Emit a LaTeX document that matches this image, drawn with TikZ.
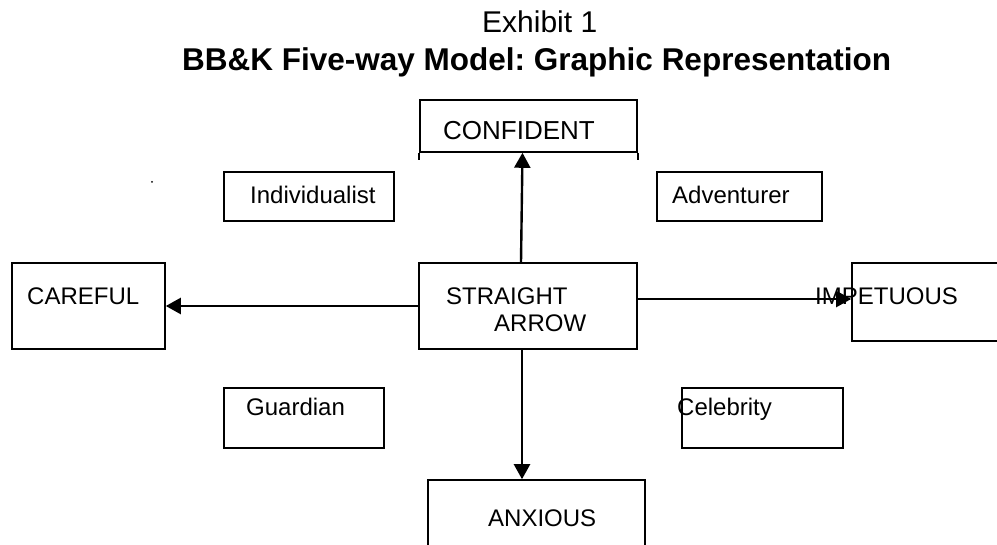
\documentclass[tikz,border=0pt]{standalone}
\usepackage{fontspec}
\setmainfont{Liberation Sans}
\frenchspacing
\usetikzlibrary{arrows.meta, positioning, calc}
\tikzset{
  typebox/.style={
    draw, line width=1.6pt, inner sep=0pt
  },
  typelabel/.style={
    anchor=base west, inner sep=0pt, font=\fontsize{24}{28}\selectfont
  },
  typearrow/.style={
    -{Triangle[length=15pt, width=16pt]}, line width=2.4pt
  },
}

\begin{document}
\begin{tikzpicture}[x=1pt, y=-1pt]
  \useasboundingbox (0,0) rectangle (997,545);
  \clip (0,0) rectangle (997,545);

  % ── Title ──────────────────────────────────────────────────────
  \node[anchor=base west, inner sep=0pt, font=\fontsize{30}{36}\selectfont]
    (exhibit) at (482,33) {Exhibit 1};
  \node[anchor=base west, inner sep=0pt,
        font=\fontsize{31.5}{38}\selectfont\bfseries]
    (title) at (182,71) {BB\&K Five-way Model: Graphic Representation};

  % ── Boxes ──────────────────────────────────────────────────────
  \node[typebox, minimum width=217pt, minimum height=52pt]
    (confident) at (528.5,126) {};
  \draw[line width=1.6pt] (confident.south west) -- ++(0,7);
  \draw[line width=1.6pt] (confident.south east) -- ++(0,7);

  \node[typebox, minimum width=170pt, minimum height=49pt]
    (individualist) at (309,196.5) {};
  \node[typebox, minimum width=165pt, minimum height=49pt]
    (adventurer) at (739.5,196.5) {};

  \node[typebox, minimum width=153pt, minimum height=86pt]
    (careful) at (88.5,306) {};
  \node[typebox, minimum width=218pt, minimum height=86pt]
    (straight) at (528,306) {};
  \node[typebox, minimum width=248pt, minimum height=78pt]
    (impetuous) at (976,302) {};  % runs off the right edge

  \node[typebox, minimum width=160pt, minimum height=60pt]
    (guardian) at (304,418) {};
  \node[typebox, minimum width=161pt, minimum height=60pt]
    (celebrity) at (762.5,418) {};

  \node[typebox, minimum width=217pt, minimum height=120pt]
    (anxious) at (536.5,540) {};  % runs off the bottom edge

  % stray dot
  \fill (152,182) circle (1pt);

  % ── Labels ─────────────────────────────────────────────────────
  \node[typelabel, font=\fontsize{26}{30}\selectfont]
    (confident-text) at (443,140) {CONFIDENT};
  \node[typelabel] (individualist-text) at (250,204) {Individualist};
  \node[typelabel] (adventurer-text) at (672,204) {Adventurer};
  \node[typelabel] (careful-text) at (27,305) {CAREFUL};
  \node[typelabel] (straight-text) at (446,305) {STRAIGHT};
  \node[typelabel] (arrow-text) at (494,332) {ARROW};
  \node[typelabel] (impetuous-text) at (815,305) {IMPETUOUS};
  \node[typelabel] (guardian-text) at (246,416) {Guardian};
  \node[typelabel] (celebrity-text) at (677,416) {Celebrity};
  \node[typelabel] (anxious-text) at (488,526) {ANXIOUS};

  % ── Arrows ─────────────────────────────────────────────────────
  \draw[typearrow] ([xshift=-7pt]straight.north)
    -- ([xshift=-6pt]confident.south);
  \draw[typearrow] (straight.west) -- (careful.east);
  \draw[typearrow] ([yshift=7pt]straight.east)
    -- ([yshift=7pt]straight.east -| impetuous.west);
  \draw[typearrow] ([xshift=-6pt]straight.south)
    -- ([xshift=-6pt]straight.south |- anxious.north);
\end{tikzpicture}
\end{document}
